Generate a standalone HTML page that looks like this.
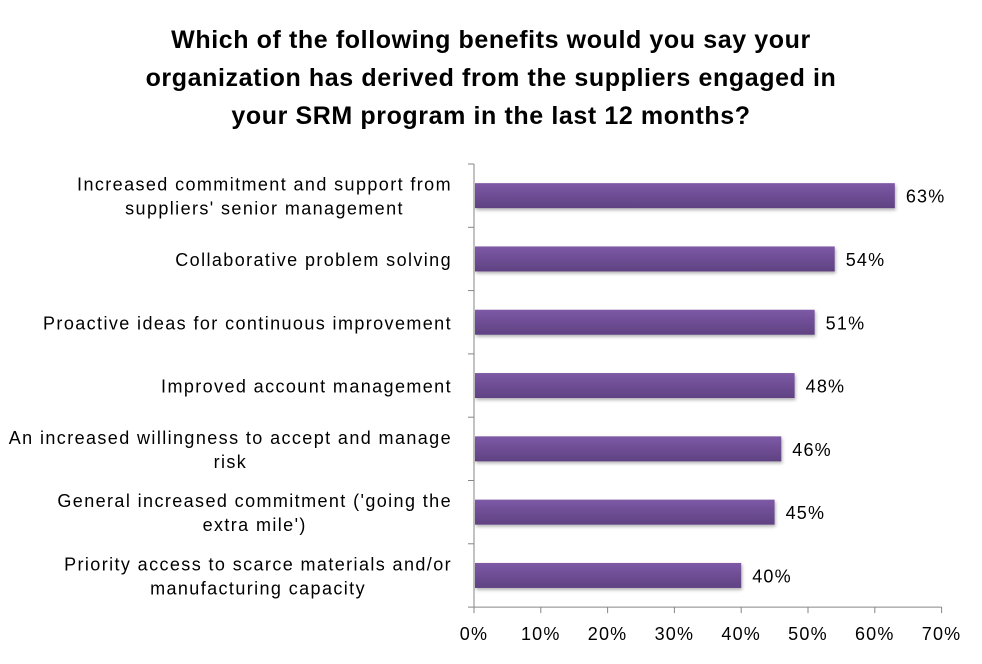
<!DOCTYPE html>
<html><head><meta charset="utf-8"><style>
body{margin:0;background:#fff;}
svg text{font-family:"Liberation Sans",sans-serif;}
</style></head><body>
<svg width="982" height="659" viewBox="0 0 982 659">
<defs>
<linearGradient id="g" x1="0" y1="0" x2="0" y2="1">
<stop offset="0" stop-color="#7d59a6"/><stop offset="1" stop-color="#5f4282"/>
</linearGradient>
<filter id="sh" x="-5%" y="-20%" width="110%" height="160%"><feDropShadow dx="1" dy="2" stdDeviation="1.5" flood-color="#000" flood-opacity="0.3"/></filter>
</defs>
<g font-weight="bold" font-size="25" letter-spacing="0.6" text-anchor="middle" fill="#000">
<text x="491" y="48">Which of the following benefits would you say your</text>
<text x="491" y="86">organization has derived from the suppliers engaged in</text>
<text x="491" y="124">your SRM program in the last 12 months?</text>
</g>
<g id="plot"></g>
</svg>
<script>
const categories=[["Increased commitment and support from","suppliers' senior management"],["Collaborative problem solving"],["Proactive ideas for continuous improvement"],["Improved account management"],["An increased willingness to accept and manage","risk"],["General increased commitment ('going the","extra mile')"],["Priority access to scarce materials and/or","manufacturing capacity"]];
const values=[63,54,51,48,46,45,40];
const ticks=[0,10,20,30,40,50,60,70];
const x0=474,xPer=6.68,yTop=164,band=63.3;
const xs=v=>x0+v*xPer;
const NS="http://www.w3.org/2000/svg";
const g=document.getElementById('plot');
function mk(t,a){const e=document.createElementNS(NS,t);for(const k in a)e.setAttribute(k,a[k]);g.appendChild(e);return e;}
const n=categories.length, yBot=yTop+band*n;
let ax=mk('line',{x1:x0,y1:yTop,x2:x0,y2:yBot,stroke:'#868686'});


let bx=mk('line',{x1:x0,y1:yBot,x2:xs(70),y2:yBot,stroke:'#868686'});


for(let i=0;i<=n;i++){const y=yTop+i*band;const t=mk('line',{x1:x0-6,y1:y,x2:x0,y2:y,stroke:'#868686'});

}
ticks.forEach(v=>{const x=xs(v);mk('line',{x1:x,y1:yBot,x2:x,y2:yBot+6,stroke:'#868686'});
const t=mk('text',{x:x,y:yBot+33,'font-size':18,'letter-spacing':1.2,'text-anchor':'middle',fill:'#000'});t.textContent=v+'%';

});
categories.forEach((c,i)=>{const cy=yTop+band*(i+0.5);const h=25;
const r=mk('rect',{x:x0+1,y:cy-h/2,width:xs(values[i])-x0-1,height:h,fill:'url(#g)',filter:'url(#sh)'});


const vl=mk('text',{x:xs(values[i])+11,y:cy+7,'font-size':18,'letter-spacing':1.2,fill:'#000'});vl.textContent=values[i]+'%';


const start=cy+7-(c.length-1)*12;
let first=null;
c.forEach((l,j)=>{const t=mk('text',{x:452,y:start+j*24,'font-size':18,'letter-spacing':1.4,fill:'#000','text-anchor':'end'});
t.textContent=l;


if(j==0)first=t;
else{const w1=first.getComputedTextLength();t.setAttribute('text-anchor','middle');t.setAttribute('x',452-w1/2);}
});
});
</script>
</body></html>
